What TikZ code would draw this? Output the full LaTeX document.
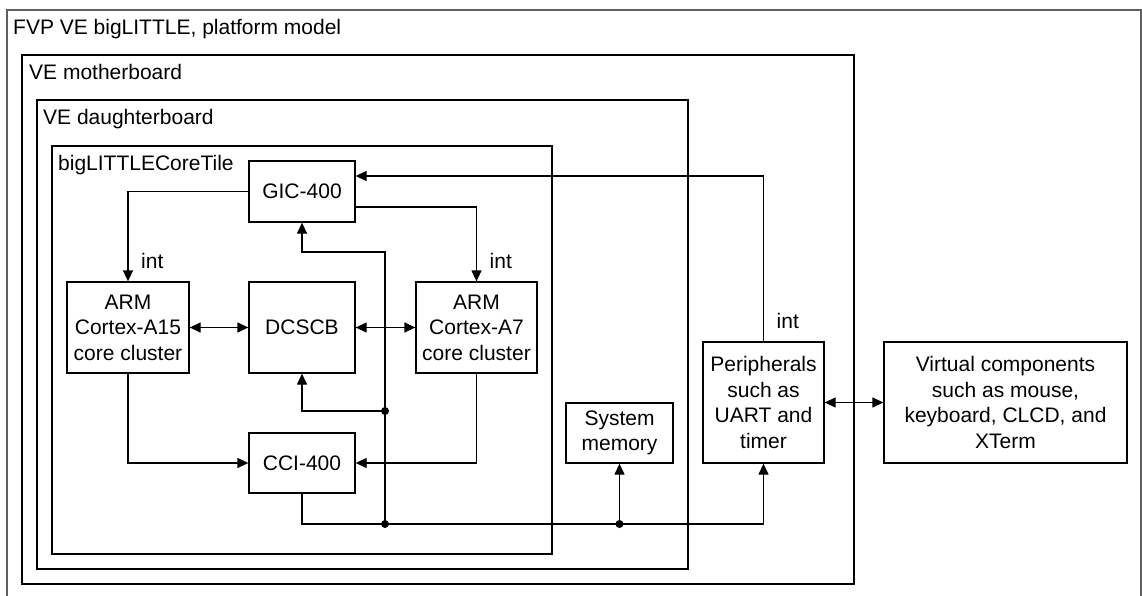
\documentclass[tikz,border=0pt]{standalone}
\usepackage{fontspec}
\setmainfont{Liberation Sans}
\usetikzlibrary{arrows.meta}
\begin{document}
\begin{tikzpicture}
[x=1pt,y=-1pt,
  boxdecorate/.style={shape=rectangle,draw,line width=1.3pt,align=center,inner sep=2pt},%
  framedecorate/.style={draw,line width=1.3pt},%
  titledecorate/.style={anchor=base west,inner sep=0pt},%
  linedecorate/.style={line width=1.3pt,-{Triangle[length=11pt,width=10pt]}},%
  bothdecorate/.style={line width=1.3pt,{Triangle[length=11pt,width=10pt]}-{Triangle[length=11pt,width=10pt]}},%
  dotdecorate/.style={fill,circle,inner sep=0pt,minimum size=8pt},%
  font=\fontsize{21}{25.5}\selectfont]
\useasboundingbox (0,0) rectangle (1142,596);
%% frames
\draw[framedecorate,gray!75!black,line width=1.8pt] (7,610) -- (7,10) -- (1141,10) -- (1141,610);
\draw[framedecorate] (22,55) rectangle (854,584);
\draw[framedecorate] (37,100) rectangle (688,569);
\draw[framedecorate] (52,146) rectangle (552,554);
\node (platform) at (13,35) [titledecorate] {FVP VE bigLITTLE, platform model};
\node (mother) at (29,80) [titledecorate] {VE motherboard};
\node (daughter) at (43,125) [titledecorate] {VE daughterboard};
\node (tile) at (58,171) [titledecorate] {bigLITTLECoreTile};
%% blocks
\foreach \nodename/\x/\y/\w/\h/\txt in {
  gic/302/191.5/106/61/{GIC-400},
  afifteen/128/327.5/122/91/{ARM\\Cortex-A15\\core cluster},
  dcscb/302/327.5/106/91/{DCSCB},
  aseven/476.5/327.5/121/91/{ARM\\Cortex-A7\\core cluster},
  cci/302/463/106/60/{CCI-400},
  sysmem/619.5/433/107/60/{System\\memory},
  periph/763.5/402.5/121/121/{Peripherals\\such as\\UART and\\timer},
  virtual/1005.5/402.5/243/121/{Virtual components\\such as mouse,\\keyboard, CLCD, and\\XTerm}} {
  \node (\nodename) at (\x,\y) [boxdecorate,minimum width=\w pt,minimum height=\h pt] {\txt};
}
%% int labels
\foreach \nodename in {afifteen, aseven, periph} {
  \node (int\nodename) at ([xshift=13pt,yshift=13pt]\nodename.north) [titledecorate] {int};
}
%% junctions
\coordinate (busa) at (385,524);
\coordinate (dcj) at (385,411);
\coordinate (gicj) at (385,252);
\coordinate (busb) at (sysmem.south |- busa);
%% connectors
\draw[linedecorate] (gic.west) -| (afifteen.north);
\draw[linedecorate] ([yshift=-15.5pt]gic.east) -| (aseven.north);
\draw[linedecorate] (periph.north) |- ([yshift=15.5pt]gic.east);
\draw[bothdecorate] (afifteen) -- (dcscb);
\draw[bothdecorate] (dcscb) -- (aseven);
\draw[bothdecorate] (periph) -- (virtual);
\draw[linedecorate] (afifteen.south) |- (cci.west);
\draw[linedecorate] (aseven.south) |- (cci.east);
\draw[linedecorate] (cci.south) |- (periph.south |- busa) -- (periph.south);
\draw[linedecorate] (busa) -- (gicj) -| (gic.south);
\draw[linedecorate] (dcj) -| (dcscb.south);
\draw[linedecorate] (busb) -- (sysmem.south);
\foreach \dotname in {busa, dcj, busb} {
  \node at (\dotname) [dotdecorate] {};
}
\end{tikzpicture}
\end{document}
